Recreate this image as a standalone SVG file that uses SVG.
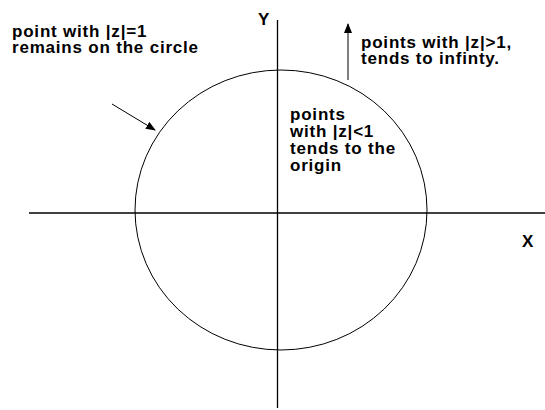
<svg xmlns="http://www.w3.org/2000/svg" width="545" height="410" viewBox="0 0 545 410">
<style>
text{font-family:"Liberation Sans",Arial,sans-serif;font-weight:bold;font-size:17px;letter-spacing:0.8px;fill:#000}
.ax{stroke:#000;stroke-width:1.3;fill:none}
.ln{stroke:#000;stroke-width:1;fill:none}
</style>
<defs>
<marker id="ah" markerWidth="10" markerHeight="8" refX="9" refY="4" orient="auto" markerUnits="userSpaceOnUse">
<path d="M0,0 L10,4 L0,8 Z" fill="#000"/>
</marker>
</defs>
<rect width="545" height="410" fill="#fff"/>
<g id="axes">
<line class="ax" x1="29" y1="213" x2="545" y2="213"/>
<line class="ax" x1="277.5" y1="20" x2="277.5" y2="408" stroke="#333"/>
</g>
<g id="circle">
<ellipse class="ln" cx="281" cy="210" rx="146" ry="140"/>
</g>
<g id="labels">
<text x="258" y="25">Y</text>
<text x="522" y="247">X</text>
<text x="12" y="37">point with |z|=1</text>
<text x="12" y="53">remains on the circle</text>
<text x="361" y="48">points with |z|&gt;1,</text>
<text x="361" y="64">tends to infinty.</text>
<text x="290" y="120">points</text>
<text x="290" y="137">with |z|&lt;1</text>
<text x="290" y="154">tends to the</text>
<text x="290" y="171">origin</text>
</g>
<g id="connectors">
<line class="ln" x1="112" y1="104" x2="155" y2="130" marker-end="url(#ah)"/>
<line class="ln" x1="348" y1="80" x2="348" y2="24" marker-end="url(#ah)"/>
</g>
</svg>
